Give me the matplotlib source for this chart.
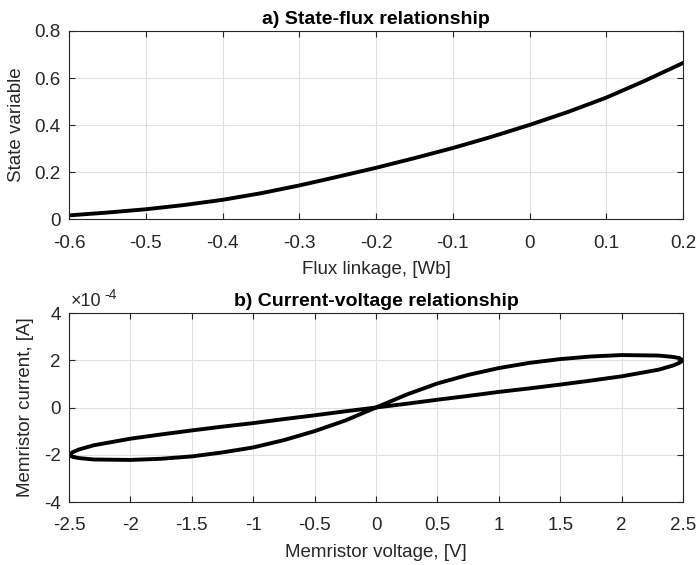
import numpy as np
import matplotlib.pyplot as plt
from matplotlib.ticker import FuncFormatter

# a) state variable vs flux linkage (read off the picture)
flux = [-0.6, -0.55, -0.5, -0.45, -0.4, -0.35, -0.3, -0.25, -0.2, -0.15,
        -0.1, -0.05, 0.0, 0.05, 0.1, 0.15, 0.2]
state = [0.017, 0.029, 0.043, 0.061, 0.083, 0.111, 0.144, 0.181, 0.219, 0.26,
         0.303, 0.35, 0.401, 0.456, 0.517, 0.588, 0.664]

# b) memristor loop, current in units of 1e-4 A
# steep branch (through the origin, -2.5 V -> 2.5 V)
v_steep = [-2.5, -2.47, -2.42, -2.3, -2.0, -1.75, -1.5, -1.25, -1.0, -0.75,
           -0.5, -0.25, 0.0, 0.25, 0.5, 0.75, 1.0, 1.25, 1.5, 1.75, 2.0,
           2.3, 2.42, 2.47, 2.5]
i_steep = [-2.0, -2.09, -2.14, -2.2, -2.22, -2.17, -2.07, -1.9, -1.69, -1.38,
           -1.0, -0.55, 0.0, 0.55, 1.02, 1.38, 1.67, 1.89, 2.05, 2.16, 2.22,
           2.2, 2.14, 2.09, 2.0]
# shallow branch (back from 2.5 V -> -2.5 V)
v_shallow = [2.5, 2.47, 2.42, 2.3, 2.0, 1.75, 1.5, 1.25, 1.0, 0.75, 0.5, 0.25,
             0.0, -0.25, -0.5, -0.75, -1.0, -1.25, -1.5, -1.75, -2.0, -2.3,
             -2.42, -2.47, -2.5]
i_shallow = [2.0, 1.89, 1.78, 1.6, 1.32, 1.14, 0.97, 0.81, 0.66, 0.49, 0.33,
             0.16, 0.0, -0.16, -0.33, -0.49, -0.66, -0.81, -0.97, -1.14, -1.32,
             -1.6, -1.78, -1.89, -2.0]

plt.rcParams['font.family'] = ['Liberation Sans', 'DejaVu Sans']
dark = '#262626'

fig = plt.figure(figsize=(6.98, 5.65), dpi=100)
ax1 = fig.add_axes([0.0989, 0.6117, 0.8797, 0.3336])
ax2 = fig.add_axes([0.0989, 0.1115, 0.8797, 0.3345])

for ax in (ax1, ax2):
    ax.grid(True, color='#e0e0e0', lw=0.8)
    ax.set_axisbelow(True)
    ax.tick_params(direction='in', top=True, right=True, colors=dark,
                   labelcolor=dark, labelsize=13.5, length=4.5)
    ax.tick_params(axis='x', pad=11)
    ax.tick_params(axis='y', pad=6)
    for s in ax.spines.values():
        s.set_color(dark)
        s.set_linewidth(0.8)

ax1.plot(flux, state, color='black', lw=2.8)
ax1.set_xlim(-0.6, 0.2)
ax1.set_ylim(0, 0.8)
ax1.set_xticks(np.arange(-0.6, 0.21, 0.1))
ax1.set_xticklabels(['-0.6', '-0.5', '-0.4', '-0.3', '-0.2', '-0.1', '0', '0.1', '0.2'])
ax1.set_yticks([0, 0.2, 0.4, 0.6, 0.8])
ax1.set_yticklabels(['0', '0.2', '0.4', '0.6', '0.8'])
ax1.set_xlabel('Flux linkage, [Wb]', color=dark, fontsize=13.5, labelpad=7)
ax1.set_ylabel('State variable', color=dark, fontsize=13.5, labelpad=7)
ax1.set_title('a) State-flux relationship', fontweight='bold', fontsize=14,
              color='black', pad=5)

v_loop = v_steep + v_shallow
i_loop = [c * 1e-4 for c in i_steep + i_shallow]
ax2.plot(v_loop, i_loop, color='black', lw=2.8)
ax2.set_xlim(-2.5, 2.5)
ax2.set_ylim(-4e-4, 4e-4)
ax2.set_xticks(np.arange(-2.5, 2.51, 0.5))
ax2.set_xticklabels(['-2.5', '-2', '-1.5', '-1', '-0.5', '0', '0.5', '1', '1.5', '2', '2.5'])
ax2.set_yticks([-4e-4, -2e-4, 0, 2e-4, 4e-4])
ax2.yaxis.set_major_formatter(FuncFormatter(lambda y, p: '%g' % round(y / 1e-4)))
ax2.set_xlabel('Memristor voltage, [V]', color=dark, fontsize=13.5, labelpad=7)
ax2.set_ylabel('Memristor current, [A]', color=dark, fontsize=13.5, labelpad=7)
ax2.set_title('b) Current-voltage relationship', fontweight='bold', fontsize=14,
              color='black', pad=5)
ax2.text(0.003, 1.015, '\u00d710', transform=ax2.transAxes, color=dark,
         fontsize=13, ha='left', va='bottom')
ax2.text(0.057, 1.06, '-4', transform=ax2.transAxes, color=dark,
         fontsize=10, ha='left', va='bottom')

fig.savefig('out.png', dpi=100)
